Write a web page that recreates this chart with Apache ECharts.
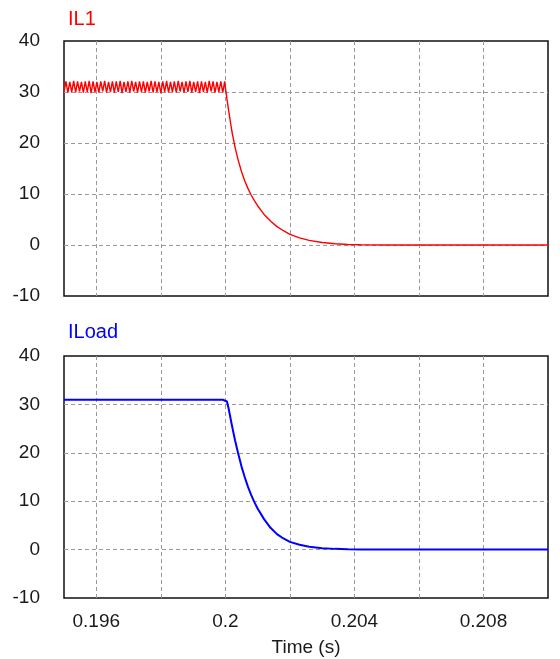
<!DOCTYPE html>
<html>
<head>
<meta charset="utf-8">
<script src="https://cdn.jsdelivr.net/npm/echarts@6/dist/echarts.min.js"></script>
<style>
  html, body { margin: 0; padding: 0; background: #fff; }
  #chart { width: 560px; height: 659px; }
</style>
</head>
<body>
<div id="chart"></div>
<script>
// switching ripple before the step (s)
var rippleTime = [
  0.19500, 0.19506, 0.19512, 0.19518, 0.19524, 0.19530, 0.19536, 0.19542, 0.19548, 0.19554,
  0.19560, 0.19566, 0.19572, 0.19578, 0.19584, 0.19590, 0.19596, 0.19602, 0.19608, 0.19614,
  0.19620, 0.19626, 0.19632, 0.19638, 0.19644, 0.19650, 0.19656, 0.19662, 0.19668, 0.19674,
  0.19680, 0.19686, 0.19692, 0.19698, 0.19704, 0.19710, 0.19716, 0.19722, 0.19728, 0.19734,
  0.19740, 0.19746, 0.19752, 0.19758, 0.19764, 0.19770, 0.19776, 0.19782, 0.19788, 0.19794,
  0.19800, 0.19806, 0.19812, 0.19818, 0.19824, 0.19830, 0.19836, 0.19842, 0.19848, 0.19854,
  0.19860, 0.19866, 0.19872, 0.19878, 0.19884, 0.19890, 0.19896, 0.19902, 0.19908, 0.19914,
  0.19920, 0.19926, 0.19932, 0.19938, 0.19944, 0.19950, 0.19956, 0.19962, 0.19968, 0.19974,
  0.19980, 0.19986, 0.19992, 0.19998
];
var il1Ripple = [
  30.0, 32.1, 29.9, 32.0, 30.0, 32.2, 29.9, 32.1, 30.1, 32.0,
  29.9, 32.1, 30.0, 32.2, 29.8, 32.1, 30.0, 32.0, 29.9, 32.1,
  30.1, 32.2, 29.9, 32.0, 30.0, 32.1, 29.9, 32.1, 30.0, 32.2,
  29.8, 32.0, 30.0, 32.1, 29.9, 32.2, 30.1, 32.0, 29.9, 32.1,
  30.0, 32.1, 29.9, 32.0, 30.1, 32.2, 29.9, 32.1, 30.0, 32.0,
  29.8, 32.1, 30.0, 32.2, 29.9, 32.0, 30.0, 32.1, 29.9, 32.2,
  30.1, 32.0, 29.9, 32.1, 30.0, 32.2, 29.9, 32.0, 30.0, 32.1,
  29.8, 32.1, 30.0, 32.0, 29.9, 32.2, 30.1, 32.1, 29.9, 32.0,
  30.0, 32.1, 29.9, 32.1
];
var iloadRipple = [
  30.95, 31.05, 30.95, 31.05, 30.95, 31.05, 30.95, 31.05, 30.95, 31.05,
  30.95, 31.05, 30.95, 31.05, 30.95, 31.05, 30.95, 31.05, 30.95, 31.05,
  30.95, 31.05, 30.95, 31.05, 30.95, 31.05, 30.95, 31.05, 30.95, 31.05,
  30.95, 31.05, 30.95, 31.05, 30.95, 31.05, 30.95, 31.05, 30.95, 31.05,
  30.95, 31.05, 30.95, 31.05, 30.95, 31.05, 30.95, 31.05, 30.95, 31.05,
  30.95, 31.05, 30.95, 31.05, 30.95, 31.05, 30.95, 31.05, 30.95, 31.05,
  30.95, 31.05, 30.95, 31.05, 30.95, 31.05, 30.95, 31.05, 30.95, 31.05,
  30.95, 31.05, 30.95, 31.05, 30.95, 31.05, 30.95, 31.05, 30.95, 31.05,
  30.95, 31.05, 30.95, 31.05
];

// decay after the step (s)
var decayTime = [
  0.2000, 0.20005, 0.2001, 0.2002, 0.2003, 0.2004, 0.2005, 0.2006, 0.2007, 0.2008,
  0.2009, 0.2010, 0.2012, 0.2014, 0.2016, 0.2018, 0.2020, 0.2023, 0.2026, 0.2030,
  0.2034, 0.2038, 0.2042, 0.2050, 0.2100
];
var il1Decay = [
  31.0, 28.6, 26.5, 22.4, 19.2, 16.6, 14.4, 12.6, 11.1, 9.8,
  8.7, 7.7, 6.0, 4.7, 3.6, 2.8, 2.1, 1.4, 0.9, 0.5,
  0.25, 0.1, 0.04, 0.0, 0.0
];
var iloadDecay = [
  31.0, 30.6, 29.2, 25.8, 22.6, 19.8, 17.2, 15.0, 13.0, 11.3,
  9.8, 8.5, 6.3, 4.5, 3.2, 2.3, 1.6, 1.0, 0.6, 0.3,
  0.15, 0.06, 0.02, 0.0, 0.0
];

var xGrid = [0.196, 0.198, 0.2, 0.202, 0.204, 0.206, 0.208];
var xLabels = [0.196, 0.2, 0.204, 0.208];
var yGrid = [0, 10, 20, 30];
var yLabels = [-10, 0, 10, 20, 30, 40];

function pairs(t1, v1, t2, v2) {
  var out = [];
  for (var i = 0; i < t1.length; i++) out.push([t1[i], v1[i]]);
  for (var j = 0; j < t2.length; j++) out.push([t2[j], v2[j]]);
  return out;
}

var font = 'Liberation Sans, Arial, sans-serif';
var dash = { color: '#9a9a9a', type: [4, 3], width: 1 };

function xAxisOf(idx, showLabel) {
  return {
    gridIndex: idx, type: 'value', min: 0.195, max: 0.21,
    axisLine: { show: false },
    axisTick: { show: false, customValues: xGrid },
    axisLabel: {
      show: showLabel, customValues: xLabels, margin: 14,
      color: '#1a1a1a', fontSize: 19, fontFamily: font
    },
    splitLine: { show: true, lineStyle: dash },
    name: showLabel ? 'Time (s)' : '',
    nameLocation: 'middle', nameGap: 40,
    nameTextStyle: { color: '#1a1a1a', fontSize: 19, fontFamily: font }
  };
}
function yAxisOf(idx) {
  return {
    gridIndex: idx, type: 'value', min: -10, max: 40,
    axisLine: { show: false },
    axisTick: { show: false, customValues: yGrid },
    axisLabel: {
      customValues: yLabels, margin: 24, padding: [7, 0, 0, 0],
      color: '#1a1a1a', fontSize: 19, fontFamily: font
    },
    splitLine: { show: true, lineStyle: dash }
  };
}

var chart = echarts.init(document.getElementById('chart'), null, { renderer: 'canvas' });
chart.setOption({
  animation: false,
  title: [
    { text: 'IL1', left: 63, top: 4, textStyle: { color: '#ff0000', fontSize: 20, fontWeight: 'normal', fontFamily: font } },
    { text: 'ILoad', left: 63, top: 317, textStyle: { color: '#0000ff', fontSize: 20, fontWeight: 'normal', fontFamily: font } }
  ],
  grid: [
    { left: 64, right: 12, top: 41, height: 255, show: true, borderColor: '#111', borderWidth: 1.5 },
    { left: 64, right: 12, top: 356, height: 242, show: true, borderColor: '#111', borderWidth: 1.5 }
  ],
  xAxis: [xAxisOf(0, false), xAxisOf(1, true)],
  yAxis: [yAxisOf(0), yAxisOf(1)],
  series: [
    {
      name: 'IL1', type: 'line', xAxisIndex: 0, yAxisIndex: 0,
      data: pairs(rippleTime, il1Ripple, decayTime, il1Decay),
      showSymbol: false, lineStyle: { color: '#ff0000', width: 1.4 }
    },
    {
      name: 'ILoad', type: 'line', xAxisIndex: 1, yAxisIndex: 1,
      data: pairs(rippleTime, iloadRipple, decayTime, iloadDecay),
      showSymbol: false, lineStyle: { color: '#0000ff', width: 2 }
    }
  ]
});
</script>
</body>
</html>
